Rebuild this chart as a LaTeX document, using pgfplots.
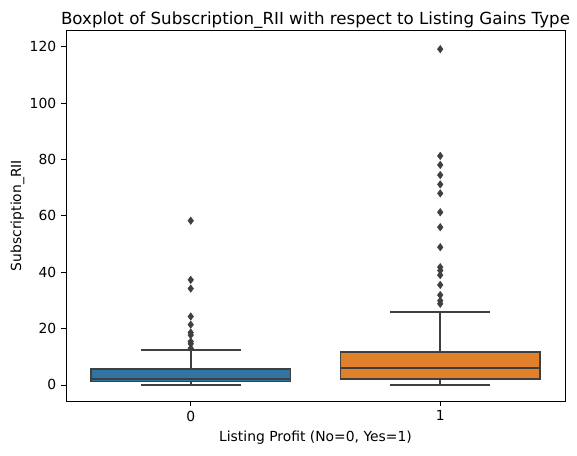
\documentclass[border=0pt]{standalone}
\usepackage{pgfplots}
\pgfplotsset{compat=1.18}
\usepackage{fontspec}
\setmainfont{DejaVu Sans}
\definecolor{sbblue}{HTML}{3274A1}
\definecolor{sborange}{HTML}{E1812C}
\definecolor{sbline}{HTML}{3F3F3F}
\tikzset{bl/.style={draw=sbline, line width=1.3pt, line join=miter, mark=none}}
\begin{document}
\begin{tikzpicture}
\begin{axis}[
  scale only axis,
  width=359.3pt, height=267.1pt,
  xmin=-0.5, xmax=1.5,
  ymin=-5.7, ymax=126,
  axis lines=box,
  xtick={0,1}, xticklabels={0,1},
  ytick={0,20,40,60,80,100,120},
  tick align=outside,
  major tick length=3.5pt,
  tick style={black, line width=0.6pt},
  axis line style={black, line width=0.6pt},
  tick label style={font=\fontsize{10}{12}\selectfont},
  /pgf/number format/assume math mode=true,
  xtick pos=bottom, ytick pos=left,
  title={Boxplot of Subscription\_RII with respect to Listing Gains Type},
  title style={font=\fontsize{12}{14}\selectfont, inner sep=0pt, yshift=-5pt},
  xlabel={Listing Profit (No=0, Yes=1)},
  ylabel={Subscription\_RII},
  ylabel shift=-3pt,
  label style={font=\fontsize{10}{12}\selectfont},
  extra description/.code={\draw[black, line width=0.6pt] (rel axis cs:0,0) rectangle (rel axis cs:1,1);},
]
% group 0
\addplot[bl] coordinates {(0,5.7) (0,12.5)};
\addplot[bl] coordinates {(-0.2,12.5) (0.2,12.5)};
\addplot[bl] coordinates {(0,1.2) (0,0.1)};
\addplot[bl] coordinates {(-0.2,0.1) (0.2,0.1)};
\addplot[bl, fill=sbblue] coordinates {(-0.4,1.2) (0.4,1.2) (0.4,5.7) (-0.4,5.7) (-0.4,1.2)};
\addplot[bl] coordinates {(-0.4,2.1) (0.4,2.1)};
\addplot[only marks, mark=diamond*, mark size=2.7pt, mark options={fill=sbline, draw=sbline, line width=0.3pt}]
coordinates {(0,58.3) (0,37.3) (0,34.2) (0,24.3) (0,21.4) (0,18.6) (0,17.7) (0,15.4) (0,14.6) (0,13.0)};
% group 1
\addplot[bl] coordinates {(1,11.7) (1,25.9)};
\addplot[bl] coordinates {(0.8,25.9) (1.2,25.9)};
\addplot[bl] coordinates {(1,2.0) (1,0.1)};
\addplot[bl] coordinates {(0.8,0.1) (1.2,0.1)};
\addplot[bl, fill=sborange] coordinates {(0.6,2.0) (1.4,2.0) (1.4,11.7) (0.6,11.7) (0.6,2.0)};
\addplot[bl] coordinates {(0.6,6.1) (1.4,6.1)};
\addplot[only marks, mark=diamond*, mark size=2.7pt, mark options={fill=sbline, draw=sbline, line width=0.3pt}]
coordinates {(1,119.2) (1,81.3) (1,78.1) (1,74.5) (1,71.2) (1,68.0) (1,61.3) (1,56.0) (1,48.9) (1,41.8) (1,40.6) (1,39.0) (1,35.5) (1,31.9) (1,29.9) (1,28.8)};
\end{axis}
\path (current axis.south west) ++(-47.5pt,-38.9pt);
\path (current axis.north east) ++(8.64pt,21.6pt);
\end{tikzpicture}
\end{document}
